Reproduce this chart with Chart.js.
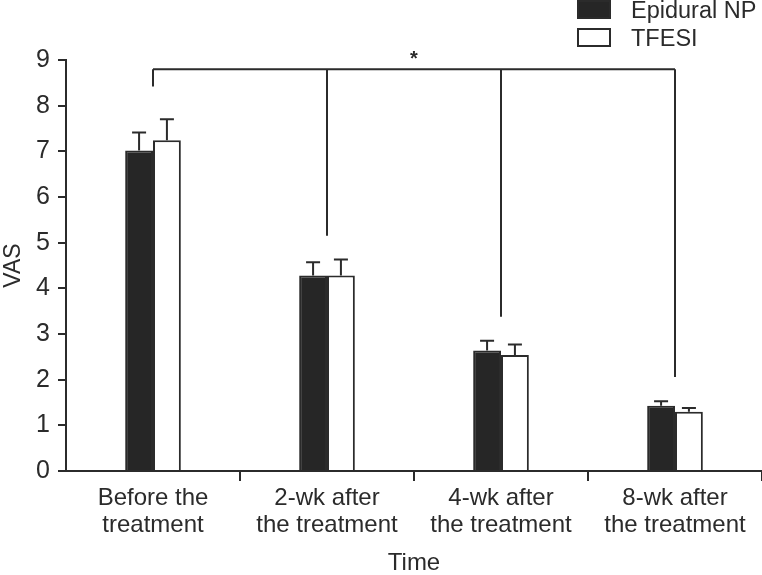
<!DOCTYPE html>
<html>
<head>
<meta charset="utf-8">
<script src="https://cdn.jsdelivr.net/npm/chart.js@4"></script>
<style>
  html, body { margin: 0; padding: 0; background: #fff; }
  #wrap { width: 762px; height: 575px; }
</style>
</head>
<body>
<div id="wrap"><canvas id="chart"></canvas></div>
<script>
// VAS over time, two groups
const categories = [
    ['Before the', 'treatment'],
    ['2-wk after', 'the treatment'],
    ['4-wk after', 'the treatment'],
    ['8-wk after', 'the treatment']
];
const epiduralNP    = [7.02, 4.28, 2.64, 1.43];
const epiduralNPErr = [0.39, 0.29, 0.21, 0.10];
const tfesi         = [7.24, 4.28, 2.54, 1.30];
const tfesiErr      = [0.46, 0.35, 0.23, 0.08];
const yTicks        = [0, 1, 2, 3, 4, 5, 6, 7, 8, 9];

// significance bracket: top line value, and where each drop ends
const bracketTop  = 8.80;
const bracketEnds = [8.42, 5.15, 3.38, 2.06];
const bracketMark = '*';

const INK  = '#2b2b2b';
const FONT = '"Liberation Sans", Arial, sans-serif';

const errorBars = {
    id: 'errorBars',
    afterDatasetsDraw(chart) {
        const ctx = chart.ctx;
        const y = chart.scales.y;
        ctx.save();
        ctx.strokeStyle = INK;
        ctx.lineWidth = 2;
        chart.data.datasets.forEach((ds, di) => {
            const meta = chart.getDatasetMeta(di);
            meta.data.forEach((bar, i) => {
                const top = y.getPixelForValue(ds.data[i] + ds.err[i]);
                ctx.beginPath();
                ctx.moveTo(bar.x, bar.y);
                ctx.lineTo(bar.x, top);
                ctx.moveTo(bar.x - 7, top);
                ctx.lineTo(bar.x + 7, top);
                ctx.stroke();
            });
        });
        ctx.restore();
    }
};

const bracket = {
    id: 'bracket',
    afterDraw(chart) {
        const ctx = chart.ctx;
        const x = chart.scales.x, y = chart.scales.y;
        const yTop = y.getPixelForValue(bracketTop);
        const xs = categories.map((c, i) => x.getPixelForValue(i));
        ctx.save();
        ctx.strokeStyle = INK;
        ctx.lineWidth = 2;
        ctx.beginPath();
        ctx.moveTo(xs[0], yTop);
        ctx.lineTo(xs[xs.length - 1], yTop);
        xs.forEach((px, i) => {
            ctx.moveTo(px, yTop);
            ctx.lineTo(px, y.getPixelForValue(bracketEnds[i]));
        });
        ctx.stroke();
        ctx.fillStyle = INK;
        ctx.font = 'bold 20px ' + FONT;
        ctx.textAlign = 'center';
        ctx.textBaseline = 'middle';
        ctx.fillText(bracketMark, (x.left + x.right) / 2, yTop - 10);
        ctx.restore();
    }
};

const sideLegend = {
    id: 'sideLegend',
    afterDraw(chart) {
        const ctx = chart.ctx;
        ctx.save();
        ctx.font = '23.5px ' + FONT;
        ctx.textBaseline = 'alphabetic';
        ctx.textAlign = 'left';
        chart.data.datasets.forEach((ds, i) => {
            const top = 1 + i * 28;
            ctx.fillStyle = ds.backgroundColor;
            ctx.fillRect(578, top, 32, 17);
            ctx.strokeStyle = INK;
            ctx.lineWidth = 2;
            ctx.strokeRect(578, top, 32, 17);
            ctx.fillStyle = INK;
            ctx.fillText(ds.label, 631, 18 + i * 28);
        });
        ctx.restore();
    }
};

new Chart(document.getElementById('chart'), {
    type: 'bar',
    data: {
        labels: categories,
        datasets: [
            {
                label: 'Epidural NP',
                data: epiduralNP,
                err: epiduralNPErr,
                backgroundColor: '#262626',
                borderColor: INK,
                borderWidth: 2
            },
            {
                label: 'TFESI',
                data: tfesi,
                err: tfesiErr,
                backgroundColor: '#ffffff',
                borderColor: INK,
                borderWidth: 2
            }
        ]
    },
    options: {
        responsive: true,
        maintainAspectRatio: false,
        animation: false,
        categoryPercentage: 0.32,
        barPercentage: 1.0,
        layout: { padding: { top: 60, right: 0, left: 0, bottom: 0 } },
        plugins: {
            legend: { display: false },
            tooltip: { enabled: false }
        },
        scales: {
            x: {
                grid: {
                    offset: true,
                    drawOnChartArea: false,
                    tickLength: 10,
                    lineWidth: 2,
                    color: c => (c.index === 0 || c.index === categories.length) ? 'rgba(0,0,0,0)' : INK
                },
                border: { color: INK, width: 2 },
                ticks: { color: INK, font: { family: FONT, size: 24, lineHeight: 1.12 }, padding: 4, maxRotation: 0 },
                title: { display: true, text: 'Time', color: INK, font: { family: FONT, size: 24, lineHeight: 1 }, padding: { top: 6, bottom: 0 } },
                afterFit: s => { s.height = 104; }
            },
            y: {
                min: 0,
                max: 9,
                afterBuildTicks: s => { s.ticks = yTicks.map(v => ({ value: v })); },
                grid: { drawOnChartArea: false, tickLength: 8, lineWidth: 2, color: INK },
                border: { color: INK, width: 2 },
                ticks: { color: INK, font: { family: FONT, size: 25 }, padding: 8 },
                title: { display: true, text: 'VAS', color: INK, font: { family: FONT, size: 23 }, padding: 0 },
                afterFit: s => { s.width = 66; }
            }
        }
    },
    plugins: [errorBars, bracket, sideLegend]
});
</script>
</body>
</html>
